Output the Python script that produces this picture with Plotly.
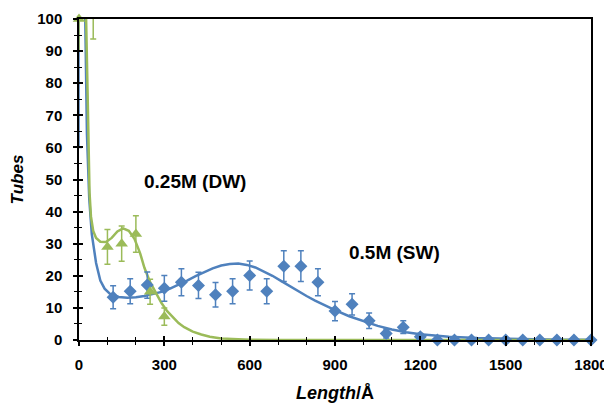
import plotly.graph_objects as go

# ---- data: 0.5M (SW) measured points (blue diamonds)
sw_len = [0, 120, 180, 240, 300, 360, 420, 480, 540, 600, 660, 720, 780, 840, 900, 960,
          1020, 1080, 1140, 1200, 1260, 1320, 1380, 1440, 1500, 1560, 1620, 1680, 1740, 1800]
sw_tubes = [104, 13.3, 15.2, 17.1, 16.1, 18.0, 17.0, 14.1, 15.2, 20.1, 15.2, 23.0, 23.0, 18.0, 9.0, 11.1,
            6.0, 2.0, 4.0, 1.0, 0, 0, 0, 0, 0, 0, 0, 0, 0, 0]
sw_err = [44, 3.6, 3.9, 4.1, 4.0, 4.2, 4.1, 3.8, 3.9, 4.5, 3.9, 4.8, 4.8, 4.2, 3.0, 3.3,
          2.4, 1.4, 2.0, 1.0, 0, 0, 0, 0, 0, 0, 0, 0, 0, 0]

# ---- data: 0.25M (DW) measured points (green triangles)
dw_len = [0, 50, 100, 150, 200, 250, 300]
dw_tubes = [100, 104, 29.0, 30.0, 33.0, 15.0, 7.3]
dw_err = [10, 10.2, 5.4, 5.5, 5.7, 3.9, 2.7]

# ---- fitted curves
sw_fit_x = [18, 22, 28, 36, 45, 60, 75, 90, 110, 140, 170, 200, 230, 260, 290, 320, 350, 380,
            410, 440, 470, 500, 530, 560, 590, 620, 650, 680, 710, 740, 770, 800, 830, 860,
            900, 950, 1000, 1050, 1100, 1150, 1200, 1250, 1300, 1400, 1500, 1600, 1700, 1800]
sw_fit_y = [112, 100, 64, 44, 33, 24, 18.5, 16.0, 14.3, 13.4, 13.2, 13.3, 13.7, 14.3, 15.0, 16.0,
            17.2, 18.5, 19.9, 21.2, 22.3, 23.2, 23.7, 23.8, 23.4, 22.6, 21.4, 20.0, 18.4, 16.8,
            15.2, 13.7, 12.3, 11.0, 9.3, 7.4, 5.9, 4.4, 3.3, 2.4, 1.8, 1.3, 1.0, 0.6, 0.35, 0.2, 0.1, 0.05]

dw_fit_x = [20, 25, 30, 34, 37, 42, 50, 60, 75, 95, 115, 135, 155, 175, 195, 215, 230, 250,
            270, 290, 310, 330, 350, 370, 400, 430, 460, 500, 550, 600, 700, 900, 1200, 1500, 1800]
dw_fit_y = [112, 100, 78, 60, 46, 38.5, 34, 31.8, 30.6, 30.5, 31.8, 33.8, 34.8, 34.0, 31.5, 27.0,
            22.5, 18.0, 14.5, 11.5, 9.0, 7.0, 5.3, 4.0, 2.6, 1.7, 1.0, 0.5, 0.2, 0.08, 0.02, 0, 0, 0, 0]

# ---- axis ticks
x_ticks = [0, 300, 600, 900, 1200, 1500, 1800]
y_ticks = [0, 10, 20, 30, 40, 50, 60, 70, 80, 90, 100]

BLUE = "#4F81BD"
GREEN = "#9BBB59"
FONT = "Liberation Sans, Arial, sans-serif"

fig = go.Figure()

# fitted curves
fig.add_trace(go.Scatter(x=sw_fit_x, y=sw_fit_y, mode="lines", line=dict(color=BLUE, width=2.5),
                         showlegend=False, hoverinfo="skip"))
fig.add_trace(go.Scatter(x=dw_fit_x, y=dw_fit_y, mode="lines", line=dict(color=GREEN, width=2.5),
                         showlegend=False, hoverinfo="skip"))

# error bars (clipped to the plot area)
def err_trace(x, y, e, color):
    return go.Scatter(x=x, y=y, mode="markers", marker=dict(size=1, color="rgba(0,0,0,0)"),
                      error_y=dict(type="data", array=e, visible=True, color=color,
                                   thickness=1.5, width=3),
                      cliponaxis=True, showlegend=False, hoverinfo="skip")

fig.add_trace(err_trace(sw_len, sw_tubes, sw_err, BLUE))
fig.add_trace(err_trace(dw_len, dw_tubes, dw_err, GREEN))

# markers (only those inside the value range, drawn unclipped over the axes)
sw_in = [(a, b) for a, b in zip(sw_len, sw_tubes) if b <= 100]
dw_in = [(a, b) for a, b in zip(dw_len, dw_tubes) if b <= 100]
fig.add_trace(go.Scatter(x=[p[0] for p in sw_in], y=[p[1] for p in sw_in], mode="markers",
                         marker=dict(symbol="diamond", size=10, color=BLUE),
                         cliponaxis=False, showlegend=False, name="0.5M (SW)"))
fig.add_trace(go.Scatter(x=[p[0] for p in dw_in], y=[p[1] for p in dw_in], mode="markers",
                         marker=dict(symbol="triangle-up", size=11, color=GREEN),
                         cliponaxis=False, showlegend=False, name="0.25M (DW)"))

# empty trace on the overlay axes (for inward tick halves)
fig.add_trace(go.Scatter(x=[], y=[], xaxis="x2", yaxis="y2", showlegend=False))

tickfont = dict(family=FONT, size=15, color="black", weight="bold")

# page body adds an 8px offset, so the figure is 8px smaller in each direction
fig.update_layout(
    width=604, height=397,
    margin=dict(l=71, r=21, t=11, b=65),
    paper_bgcolor="white", plot_bgcolor="white",
    font=dict(family=FONT, color="black"),
    xaxis=dict(range=[0, 1800], tickvals=x_ticks, ticktext=[str(v) for v in x_ticks],
               showgrid=False, zeroline=False, showline=True, linecolor="black", linewidth=1.5,
               mirror=True, ticks="outside", ticklen=4, tickwidth=1.5, tickcolor="black",
               minor=dict(dtick=100, ticks="outside", ticklen=3, tickwidth=1, tickcolor="black",
                          showgrid=False),
               tickfont=tickfont, ticklabelstandoff=6, automargin=False,
               title=dict(text="<b><i>Length</i>/Å</b>", font=dict(family=FONT, size=18, color="black"),
                          standoff=15)),
    yaxis=dict(range=[0, 100], tickvals=y_ticks, showgrid=False, zeroline=False, showline=True,
               linecolor="black", linewidth=1.5, mirror=True, ticks="outside", ticklen=4,
               tickwidth=1.5, tickcolor="black",
               minor=dict(dtick=5, ticks="outside", ticklen=3, tickwidth=1, tickcolor="black",
                          showgrid=False),
               tickfont=tickfont, ticklabelstandoff=8, automargin=False,
               title=dict(text="<b><i>Tubes</i></b>", font=dict(family=FONT, size=17, color="black"),
                          standoff=12)),
    xaxis2=dict(overlaying="x", anchor="y2", range=[0, 1800], tickvals=x_ticks, showticklabels=False,
                showgrid=False, zeroline=False, showline=False, ticks="inside", ticklen=4,
                tickwidth=1.5, tickcolor="black", automargin=False,
                minor=dict(dtick=100, ticks="inside", ticklen=3, tickwidth=1, tickcolor="black",
                           showgrid=False)),
    yaxis2=dict(overlaying="y", anchor="x2", range=[0, 100], tickvals=y_ticks, showticklabels=False,
                showgrid=False, zeroline=False, showline=False, ticks="inside", ticklen=4,
                tickwidth=1.5, tickcolor="black", automargin=False,
                minor=dict(dtick=5, ticks="inside", ticklen=3, tickwidth=1, tickcolor="black",
                           showgrid=False)),
    annotations=[
        dict(x=408, y=49.5, xref="x", yref="y", text="<b>0.25M (DW)</b>", showarrow=False,
             font=dict(family=FONT, size=19, color="black")),
        dict(x=1108, y=27.4, xref="x", yref="y", text="<b>0.5M (SW)</b>", showarrow=False,
             font=dict(family=FONT, size=19, color="black")),
    ],
)

fig.write_html("out.html")
